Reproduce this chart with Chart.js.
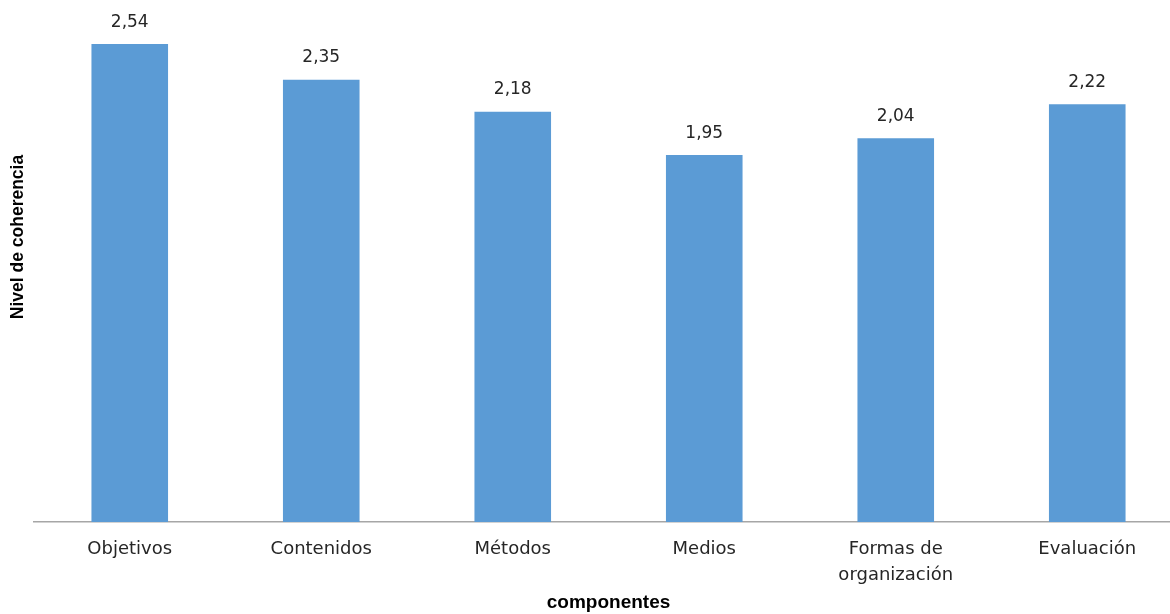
<!DOCTYPE html>
<html>
<head>
<meta charset="utf-8">
<script src="https://cdn.jsdelivr.net/npm/chart.js@4.4.1/dist/chart.umd.min.js"></script>
<style>
  html, body { margin: 0; padding: 0; background: #ffffff; overflow: hidden; }
  #wrap { width: 1200px; height: 614px; position: relative; }
</style>
</head>
<body>
<div id="wrap"><canvas id="chart"></canvas></div>
<script>
// Componentes evaluados y su nivel de coherencia
const categories = ['Objetivos', 'Contenidos', 'Métodos', 'Medios', ['Formas de', 'organización'], 'Evaluación'];
const coherencia = [2.54, 2.35, 2.18, 1.95, 2.04, 2.22];
const yTitle = 'Nivel de coherencia';
const xTitle = 'componentes';

const formatValue = v => v.toFixed(2).replace('.', ',');

// Escribe el valor encima de cada barra
const valueLabels = {
  id: 'valueLabels',
  afterDatasetsDraw(chart) {
    const ctx = chart.ctx;
    const meta = chart.getDatasetMeta(0);
    ctx.save();
    ctx.font = '17px "DejaVu Sans", sans-serif';
    ctx.fillStyle = '#262626';
    ctx.textAlign = 'center';
    ctx.textBaseline = 'middle';
    meta.data.forEach((bar, i) => {
      ctx.fillText(formatValue(coherencia[i]), bar.x, bar.y - 22);
    });
    ctx.restore();
  }
};

// Título vertical del eje de valores, algo por encima del centro del área
const verticalTitle = {
  id: 'verticalTitle',
  afterDraw(chart) {
    const { ctx, chartArea } = chart;
    ctx.save();
    ctx.translate(18, (chartArea.top + chartArea.bottom) / 2 - 31);
    ctx.rotate(-Math.PI / 2);
    ctx.font = 'bold 17.5px "Liberation Sans", Arial, sans-serif';
    ctx.fillStyle = '#000000';
    ctx.textAlign = 'center';
    ctx.textBaseline = 'middle';
    ctx.fillText(yTitle, 0, 0);
    ctx.restore();
  }
};

new Chart(document.getElementById('chart'), {
  type: 'bar',
  data: {
    labels: categories,
    datasets: [{
      data: coherencia,
      backgroundColor: '#5B9BD5',
      borderWidth: 0,
      categoryPercentage: 1,
      barPercentage: 0.4
    }]
  },
  options: {
    responsive: true,
    maintainAspectRatio: false,
    animation: false,
    layout: { padding: { top: 14, right: 17, bottom: 0, left: 34 } },
    plugins: { legend: { display: false }, tooltip: { enabled: false } },
    scales: {
      x: {
        grid: { display: false, drawTicks: false },
        border: { display: true, color: '#A6A6A6', width: 1.5 },
        ticks: {
          color: '#262626',
          font: { family: '"DejaVu Sans", sans-serif', size: 18, lineHeight: 1.45 },
          padding: 14,
          maxRotation: 0,
          autoSkip: false
        },
        title: {
          display: true,
          text: xTitle,
          color: '#000000',
          font: { family: '"Liberation Sans", Arial, sans-serif', size: 19, weight: 'bold' },
          padding: { top: -11, bottom: 0 }
        }
      },
      y: {
        display: false,
        min: 0,
        max: 2.7
      }
    }
  },
  plugins: [valueLabels, verticalTitle]
});
</script>
</body>
</html>
